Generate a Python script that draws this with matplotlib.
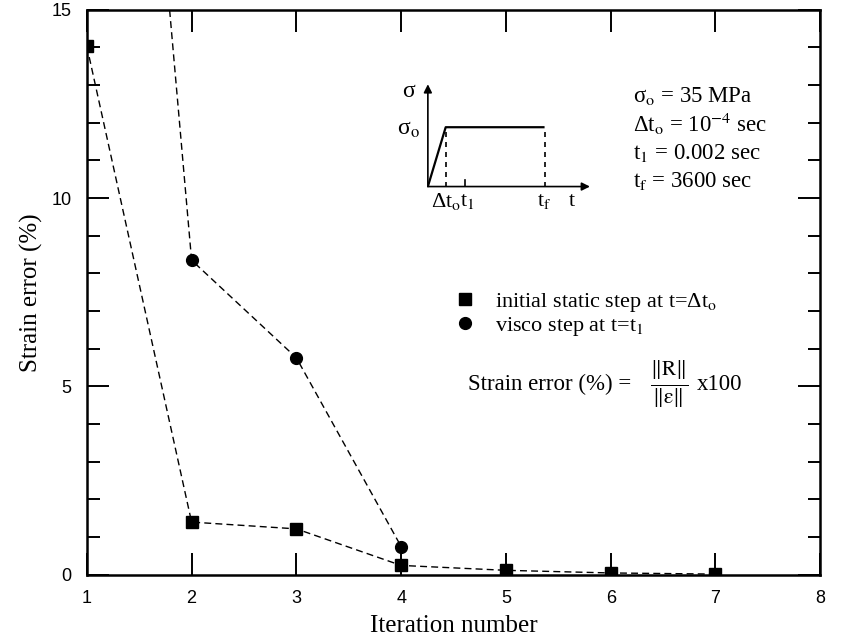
import numpy as np
import matplotlib
matplotlib.use('Agg')
import matplotlib.pyplot as plt

plt.rcParams['font.family'] = ['Liberation Serif', 'DejaVu Serif']
plt.rcParams['mathtext.fontset'] = 'stix'

# data
iterations = [1, 2, 3, 4, 5, 6, 7]
static_err = [14.03, 1.40, 1.22, 0.25, 0.12, 0.05, 0.02]
visco_iter = [1, 2, 3, 4]
visco_err = [40.0, 8.35, 5.76, 0.75]

# inset schematic (loading history)
inset_t = [0.0, 0.11, 0.72]
inset_sigma = [0.0, 0.58, 0.58]
inset_t1 = 0.228

fig = plt.figure(figsize=(8.43, 6.43), dpi=100)
ax = fig.add_axes([0.103, 0.106, 0.870, 0.879])

dash = (0, (5, 3))
ax.plot(iterations, static_err, color='black', lw=1, linestyle=dash,
        marker='s', markersize=8, label=r'initial static step at t=Δt$_{\rm o}$')
ax.plot(visco_iter, visco_err, color='black', lw=1, linestyle=dash,
        marker='o', markersize=8.5, label=r'visco step at t=t$_{\rm 1}$')

ax.set_xlim(1, 8)
ax.set_ylim(0, 15)
ax.set_xticks(range(1, 9))
ax.set_yticks([0, 5, 10, 15])
ax.set_yticks(np.arange(0, 16, 1), minor=True)
ax.tick_params(axis='both', which='major', direction='in', top=True, right=True,
               length=16, width=1.4, labelsize=13, pad=11)
ax.tick_params(axis='y', which='minor', direction='in', right=True, length=9, width=1.4)
ax.tick_params(axis='x', which='minor', bottom=False, top=False)
for lab in ax.get_xticklabels() + ax.get_yticklabels():
    lab.set_fontfamily('Liberation Sans')
for sp in ax.spines.values():
    sp.set_linewidth(1.8)

ax.set_xlabel('Iteration number', fontsize=18, labelpad=6)
ax.set_ylabel('Strain error (%)', fontsize=18, labelpad=6)

leg = ax.legend(loc='upper left', bbox_to_anchor=(0.486, 0.522), frameon=False,
                fontsize=16, handlelength=1.0, handletextpad=0.85,
                labelspacing=0.05, borderpad=0)
for h in leg.legend_handles:
    h.set_linestyle('none')

ax.text(0.52, 0.337, 'Strain error (%) =', transform=ax.transAxes,
        fontsize=16.5, va='center', ha='left')
ax.text(0.794, 0.337, r'$\frac{\Vert\mathrm{R}\Vert}{\Vert\mathrm{ε}\Vert}$',
        transform=ax.transAxes, fontsize=22, va='center', ha='center')
ax.text(0.832, 0.337, 'x100', transform=ax.transAxes, fontsize=16.5,
        va='center', ha='left')

# parameters
params = [r'σ$_{\rm o}$ = 35 MPa',
          r'Δt$_{\rm o}$ = 10$^{-4}$ sec',
          r't$_{1}$ = 0.002 sec',
          r't$_{\rm f}$ = 3600 sec']
for i, s in enumerate(params):
    ax.text(0.745, 0.847 - i * 0.05, s, transform=ax.transAxes,
            fontsize=16.5, va='center', ha='left')

# inset loading history
ins = ax.inset_axes([0.465, 0.687, 0.221, 0.181])
ins.set_xlim(0, 1)
ins.set_ylim(0, 1)
ins.axis('off')
ins.plot(inset_t, inset_sigma, color='black', lw=1.6, solid_capstyle='butt')
ins.plot([inset_t[1], inset_t[1]], [0, inset_sigma[1]], color='black', lw=1.2,
         linestyle=(0, (3, 3)))
ins.plot([inset_t[2], inset_t[2]], [0, inset_sigma[2]], color='black', lw=1.2,
         linestyle=(0, (3, 3)))
ins.annotate('', xy=(1.0, 0), xytext=(0, 0),
             arrowprops=dict(arrowstyle='-|>', color='black', lw=1.2,
                             mutation_scale=12, shrinkA=0, shrinkB=0))
ins.annotate('', xy=(0, 1.0), xytext=(0, 0),
             arrowprops=dict(arrowstyle='-|>', color='black', lw=1.2,
                             mutation_scale=12, shrinkA=0, shrinkB=0))
ins.plot([inset_t1, inset_t1], [0, 0.06], color='black', lw=1.2)
ins.text(-0.12, 0.93, 'σ', fontsize=17, ha='center', va='center')
ins.text(-0.12, 0.56, r'σ$_{\rm o}$', fontsize=17, ha='center', va='center')
ins.text(inset_t[1], -0.15, r'Δt$_{\rm o}$', fontsize=16, ha='center', va='center')
ins.text(inset_t1 - 0.03, -0.15, r't$_1$', fontsize=16, ha='left', va='center')
ins.text(inset_t[2], -0.15, r't$_{\rm f}$', fontsize=16, ha='center', va='center')
ins.text(0.89, -0.15, 't', fontsize=16, ha='center', va='center')

fig.savefig('out.png', dpi=100)
